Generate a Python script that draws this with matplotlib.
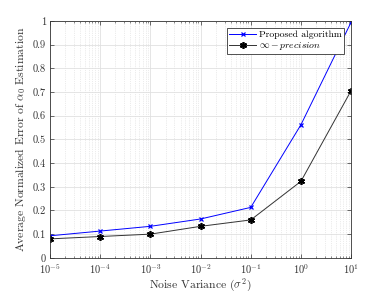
import matplotlib
matplotlib.use('Agg')
import matplotlib.pyplot as plt
from matplotlib.ticker import LogLocator, NullFormatter

plt.rcParams['font.family'] = 'serif'
plt.rcParams['font.serif'] = ['cmr10', 'DejaVu Serif']
plt.rcParams['mathtext.fontset'] = 'cm'
plt.rcParams['axes.formatter.use_mathtext'] = True

# data
noise_var = [1e-5, 1e-4, 1e-3, 1e-2, 1e-1, 1e0, 1e1]
proposed = [0.093, 0.113, 0.133, 0.164, 0.213, 0.562, 0.995]
inf_prec = [0.080, 0.090, 0.100, 0.133, 0.160, 0.323, 0.706]
yticks = [0, 0.1, 0.2, 0.3, 0.4, 0.5, 0.6, 0.7, 0.8, 0.9, 1]
ylabels = ['0', '0.1', '0.2', '0.3', '0.4', '0.5', '0.6', '0.7', '0.8', '0.9', '1']

fig = plt.figure(figsize=(3.88, 2.91), dpi=100)
ax = fig.add_axes([0.129, 0.114, 0.776, 0.814])

ax.plot(noise_var, proposed, color='#0000ff', marker='x', ms=3.5, lw=0.7,
        mew=0.9, label='Proposed algorithm')
ax.plot(noise_var, inf_prec, color='#333333', marker=(6, 2, 0), ms=5, lw=0.7,
        mew=1.2, mec='black', label=r'$\infty-precision$')

ax.set_xscale('log')
ax.set_xlim(1e-5, 1e1)
ax.set_ylim(0, 1)
ax.xaxis.set_major_locator(LogLocator(base=10, numticks=10))
ax.xaxis.set_minor_locator(LogLocator(base=10, subs=range(2, 10), numticks=100))
ax.xaxis.set_minor_formatter(NullFormatter())
ax.set_yticks(yticks)
ax.set_yticklabels(ylabels)

ax.grid(True, which='major', color='#e0e0e0', lw=0.6, ls='-')
ax.grid(True, which='minor', axis='x', color='#d8d8d8', lw=0.5, ls=':')
ax.set_axisbelow(True)

ax.tick_params(which='both', direction='in', top=True, right=True,
               labelsize=7.5, color='#333333', labelcolor='#333333')
ax.tick_params(axis='x', pad=3.5)
ax.tick_params(axis='y', pad=3)
ax.tick_params(which='major', length=3, width=0.5)
ax.tick_params(which='minor', length=1.5, width=0.4)
for s in ax.spines.values():
    s.set_linewidth(0.6)
    s.set_color('#333333')

ax.set_xlabel(r'Noise Variance ($\sigma^2$)', fontsize=8.4, labelpad=0, color='#333333')
ax.set_ylabel(r'Average Normalized Error of $\alpha_0$ Estimation', fontsize=8.4,
              labelpad=3, color='#333333')

leg = ax.legend(loc='upper right', fontsize=7, fancybox=False, framealpha=1,
                edgecolor='#333333', borderpad=0.25, labelspacing=0.1,
                handlelength=2.8, handletextpad=0.3, borderaxespad=0.7)
leg.get_frame().set_linewidth(0.6)

fig.savefig('out.png', dpi=100)
